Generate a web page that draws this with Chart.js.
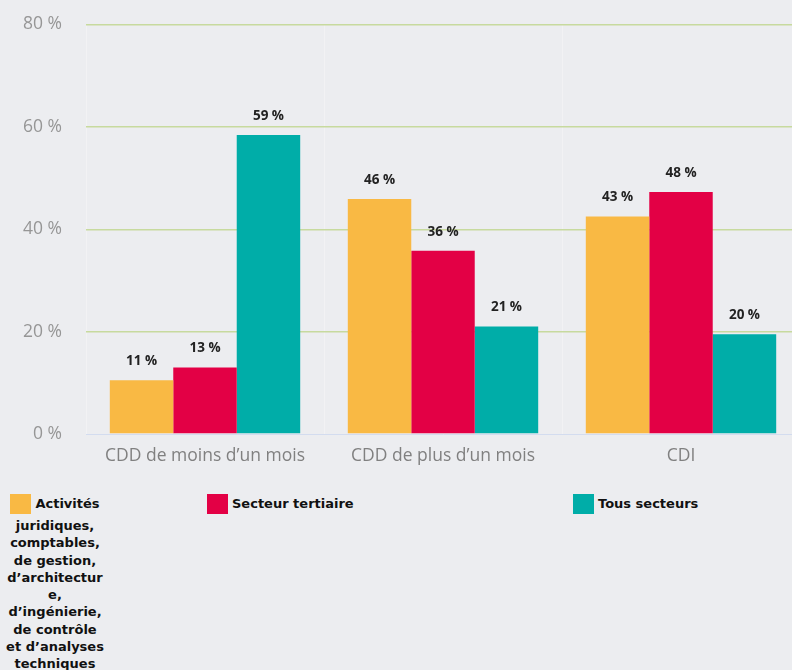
<!DOCTYPE html>
<html>
<head>
<meta charset="utf-8">
<script src="https://cdn.jsdelivr.net/npm/chart.js@4.4.0/dist/chart.umd.min.js"></script>
<style>
  html, body { margin: 0; padding: 0; background: #ecedf0; overflow: hidden; }
  #wrap { position: absolute; top: -10px; left: 0; width: 800px; height: 490px; }
  .legend { position: absolute; top: 495px; left: 0; width: 792px; font-family: "DejaVu Sans", sans-serif; font-weight: bold; font-size: 13px; color: #111; }
  .item { position: absolute; top: 0; line-height: 17.3px; overflow-wrap: anywhere; }
  .box { display: inline-block; position: relative; top: -3px; width: 21px; height: 20px; vertical-align: -9px; margin-right: 4px; }
</style>
</head>
<body>
<div id="wrap"><canvas id="chart" width="800" height="490"></canvas></div>
<div class="legend" id="legend"></div>
<script>
// categories and series
const categories = ['CDD de moins d\u2019un mois', 'CDD de plus d\u2019un mois', 'CDI'];
const seriesNames = [
  'Activit\u00e9s juridiques, comptables, de gestion, d\u2019architecture, d\u2019ing\u00e9nierie, de contr\u00f4le et d\u2019analyses techniques',
  'Secteur tertiaire',
  'Tous secteurs'
];
const colors = ['#f9b944', '#e30045', '#00ada8'];

// bar heights as measured, and the rounded labels printed on top
const juridiques = [10.5, 45.9, 42.5];
const tertiaire = [13.0, 35.8, 47.3];
const tousSecteurs = [58.4, 21.0, 19.5];
const juridiquesLabels = [11, 46, 43];
const tertiaireLabels = [13, 36, 48];
const tousSecteursLabels = [59, 21, 20];

const yTicks = [0, 20, 40, 60, 80];

const valueLabels = {
  id: 'valueLabels',
  afterDatasetsDraw(chart) {
    const ctx = chart.ctx;
    ctx.save();
    ctx.font = 'bold 13.5px "Open Sans", sans-serif';
    ctx.fillStyle = '#222';
    ctx.textAlign = 'center';
    ctx.textBaseline = 'middle';
    chart.data.datasets.forEach((ds, i) => {
      chart.getDatasetMeta(i).data.forEach((bar, j) => {
        ctx.fillText(ds.printed[j] + ' %', bar.x, bar.y - 19);
      });
    });
    ctx.restore();
  }
};

new Chart(document.getElementById('chart'), {
  type: 'bar',
  data: {
    labels: categories,
    datasets: [
      { label: seriesNames[0], data: juridiques, printed: juridiquesLabels, backgroundColor: colors[0] },
      { label: seriesNames[1], data: tertiaire, printed: tertiaireLabels, backgroundColor: colors[1] },
      { label: seriesNames[2], data: tousSecteurs, printed: tousSecteursLabels, backgroundColor: colors[2] }
    ]
  },
  options: {
    responsive: false,
    animation: false,
    layout: { padding: { top: 12, right: 0, left: 0, bottom: 0 } },
    datasets: { bar: { categoryPercentage: 0.8, barPercentage: 1.0 } },
    plugins: {
      legend: { display: false },
      tooltip: { enabled: false }
    },
    scales: {
      x: {
        grid: { display: true, color: 'rgba(255,255,255,0.3)', drawTicks: false, offset: true },
        border: { display: true, color: '#d3dcef' },
        ticks: { color: '#808080', font: { family: '"Open Sans", sans-serif', size: 17.5 }, padding: 12 },
        afterFit: (s) => { s.height = 46; }
      },
      y: {
        min: 0, max: 80,
        afterBuildTicks: (s) => { s.ticks = yTicks.map(v => ({ value: v })); },
        grid: {
          color: (c) => c.tick && c.tick.value === 0 ? 'rgba(0,0,0,0)' : '#c7da9e',
          lineWidth: 1.5,
          drawTicks: false
        },
        border: { display: false },
        ticks: {
          color: '#969696',
          font: { family: '"Open Sans", sans-serif', size: 17.5 },
          padding: 24,
          callback: (v) => v + ' %'
        },
        afterFit: (s) => { s.width = 86; }
      }
    }
  },
  plugins: [valueLabels]
});

// html legend
const legend = document.getElementById('legend');
const lefts = [5, 207, 573];
const widths = [100, 300, 200];
seriesNames.forEach((name, i) => {
  const el = document.createElement('div');
  el.className = 'item';
  el.style.left = lefts[i] + 'px';
  el.style.width = widths[i] + 'px';
  if (i === 0) el.style.textAlign = 'center';
  el.innerHTML = '<span class="box" style="background:' + colors[i] + '"></span>' + name;
  legend.appendChild(el);
});
</script>
</body>
</html>
